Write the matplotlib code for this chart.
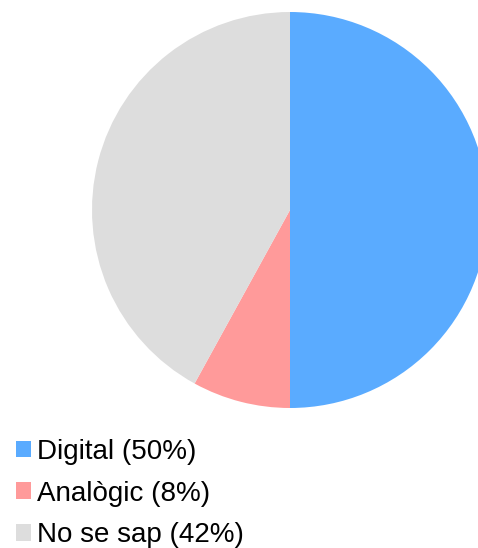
import matplotlib.pyplot as plt
from matplotlib.patches import Patch

plt.rcParams["font.family"] = ["Liberation Sans", "DejaVu Sans"]

# Data
labels = ["Digital", "Analògic", "No se sap"]
shares = [50, 8, 42]
colors = ["#5aabff", "#ff9a9a", "#dddddd"]

W, H = 478, 548
fig = plt.figure(figsize=(W / 100, H / 100), dpi=100)

# pie axes: centre at (290, 210) px, radius 198 px (runs past the right edge)
r = 198
ax = fig.add_axes([(290 - r) / W, (H - 210 - r) / H, 2 * r / W, 2 * r / H])
ax.pie(shares, colors=colors, startangle=90, counterclock=False,
       wedgeprops={"linewidth": 0})
ax.set_xlim(-1, 1)
ax.set_ylim(-1, 1)
ax.set_aspect("equal")
ax.axis("off")

handles = [Patch(facecolor=c, edgecolor="none") for c in colors]
legend_labels = [f"{l} ({s}%)" for l, s in zip(labels, shares)]
fig.legend(handles, legend_labels, loc="upper left",
           bbox_to_anchor=(16 / W, 1 - 439 / H), frameon=False,
           fontsize=20, handlelength=0.54, handleheight=0.54,
           handletextpad=0.2, labelspacing=0.56, borderpad=0,
           borderaxespad=0)

fig.savefig("out.png", dpi=100)
